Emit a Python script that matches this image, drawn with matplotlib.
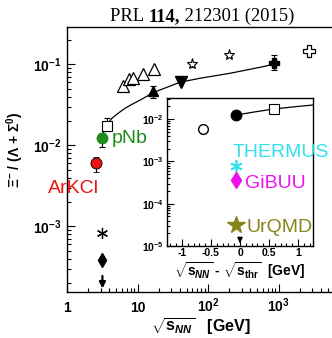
import matplotlib
matplotlib.use('Agg')
import matplotlib.pyplot as plt
from matplotlib.ticker import FixedLocator, LogLocator, NullFormatter, MultipleLocator

plt.rcParams['font.family'] = ['Liberation Sans', 'DejaVu Sans']
plt.rcParams['mathtext.fontset'] = 'custom'
plt.rcParams['mathtext.rm'] = 'Liberation Sans:bold'
plt.rcParams['mathtext.bf'] = 'Liberation Sans:bold'
plt.rcParams['mathtext.it'] = 'Liberation Sans:bold:italic'

# ---- main panel data: sqrt(s_NN) [GeV] vs Xi-/(Lambda+Sigma0) ----
tri_open_x = [6.2, 7.6, 8.6, 12.0, 17.1]
tri_open_y = [0.0535, 0.0653, 0.0671, 0.0753, 0.0868]

tri_up_x, tri_up_y, tri_up_lo, tri_up_hi = [16.6], [0.0464], [0.038], [0.0535]
tri_dn_x, tri_dn_y = [41.4], [0.060]
star_x, star_y = [59.3, 197.0], [0.100, 0.129]
star_lo, star_hi = [0.092, 0.124], [0.104, 0.133]
plus_x, plus_y, plus_lo, plus_hi = [863.0], [0.103], [0.0843], [0.129]
plus_open_x, plus_open_y = [2700.0], [0.145]

# HADES points
arkcl_x, arkcl_y, arkcl_lo, arkcl_hi = [2.61], [0.0060], [0.00464], [0.00711]
pnb_x, pnb_y, pnb_lo, pnb_hi = [3.18], [0.0122], [0.00944], [0.0141]
sq_x, sq_y, sq_lo, sq_hi = [3.7], [0.0172], [0.0149], [0.0216]

# model values at pNb energy
therm_y = 8.2e-4
gibuu_y = 3.8e-4
urqmd_arrow = [2.65e-4, 1.58e-4]   # upper limit arrow (start, end)

# fit curve
curve_x = [3.24, 3.46, 3.82, 4.35, 5.29, 6.65, 8.36, 10.8, 17.1, 40.1, 77, 205, 547, 863]
curve_y = [0.01406, 0.01622, 0.0187, 0.0216, 0.0248, 0.0286, 0.0321, 0.0360,
           0.0451, 0.0600, 0.0672, 0.0774, 0.0918, 0.100]

# ---- inset data: sqrt(s_NN) - sqrt(s_thr) [GeV] ----
in_open_x, in_open_y, in_open_lo, in_open_hi = [-0.64], [0.0058], [0.0047], [0.0068]
in_fill_x, in_fill_y, in_fill_lo, in_fill_hi = [-0.07], [0.0125], [0.0106], [0.0152]
in_sq_x, in_sq_y, in_sq_lo, in_sq_hi = [0.59], [0.0174], [0.0143], [0.0215]
in_curve_x = [-0.07, 0.25, 0.59, 1.0, 1.3]
in_curve_y = [0.0125, 0.0148, 0.0174, 0.0200, 0.0218]
in_therm_y = 8.0e-4
in_gibuu_y = 3.7e-4
in_urqmd_y = 3.2e-5
in_arrow = [1.6e-5, 1.0e-5]

main_xticks = [1, 10, 100, 1000]
main_xlabels = ['1', '10', r'$10^{2}$', r'$10^{3}$']
main_yticks = [1e-3, 1e-2, 1e-1]
main_ylabels = [r'$10^{-3}$', r'$10^{-2}$', r'$10^{-1}$']
in_xticks = [-1, -0.5, 0, 0.5, 1]
in_xlabels = ['-1', '-0.5', '0', '0.5', '1']
in_yticks = [1e-5, 1e-4, 1e-3, 1e-2]
in_ylabels = [r'$10^{-5}$', r'$10^{-4}$', r'$10^{-3}$', r'$10^{-2}$']

green = '#1e8c1e'
red = '#ee1111'
cyan = '#33e0ee'
magenta = '#ee11ee'
olive = '#85851a'

fig = plt.figure(figsize=(3.32, 3.38), dpi=100)

# main axes runs past the right edge of the picture
ax = fig.add_axes([67 / 332, 46 / 338, 282 / 332, 265 / 338])
ax.set_xscale('log')
ax.set_yscale('log')
ax.set_xlim(1, 1e4)
ax.set_ylim(10 ** -3.81, 10 ** -0.54)


def err(y, lo, hi):
    return [[a - b for a, b in zip(y, lo)], [c - a for a, c in zip(y, hi)]]


eb = dict(ecolor='k', elinewidth=0.8, capsize=2.5, capthick=0.8, linestyle='none')

ax.plot(curve_x, curve_y, color='k', lw=0.9)
ax.plot(tri_open_x, tri_open_y, '^', ms=8.5, mfc='white', mec='k', mew=0.9, ls='none')
ax.errorbar(tri_up_x, tri_up_y, yerr=err(tri_up_y, tri_up_lo, tri_up_hi), fmt='^',
            ms=6.5, color='k', **eb)
ax.plot(tri_dn_x, tri_dn_y, 'v', ms=8, color='k', ls='none')
ax.errorbar(star_x, star_y, yerr=err(star_y, star_lo, star_hi), fmt='*', ms=8,
            mfc='white', mec='k', mew=0.8, **eb)
ax.errorbar(plus_x, plus_y, yerr=err(plus_y, plus_lo, plus_hi), fmt='P', ms=7.5,
            color='k', **eb)
ax.plot(plus_open_x, plus_open_y, 'P', ms=8.5, mfc='white', mec='k', mew=0.9, ls='none')

ax.errorbar(sq_x, sq_y, yerr=err(sq_y, sq_lo, sq_hi), fmt='s', ms=7, mfc='white',
            mec='k', mew=0.8, **eb)
ax.errorbar(pnb_x, pnb_y, yerr=err(pnb_y, pnb_lo, pnb_hi), fmt='o', ms=7.5,
            mfc=green, mec=green, **eb)
ax.errorbar(arkcl_x, arkcl_y, yerr=err(arkcl_y, arkcl_lo, arkcl_hi), fmt='o', ms=8,
            mfc=red, mec='k', mew=0.6, **eb)
ax.plot(pnb_x, [therm_y], marker=(6, 2, 0), ms=8, color='k', mew=0.9, ls='none')
ax.plot(pnb_x, [gibuu_y], 'd', ms=7, color='k', ls='none')
ax.annotate('', xy=(pnb_x[0], urqmd_arrow[1]), xytext=(pnb_x[0], urqmd_arrow[0]),
            arrowprops=dict(arrowstyle='-|>', color='k', lw=1.6, mutation_scale=9))

ax.text(4.35, pnb_y[0], 'pNb', color=green, fontsize=14, ha='left', va='center')
ax.text(0.537, 0.00294, 'ArKCl', color=red, fontsize=14, ha='left', va='center',
        clip_on=False)

ax.xaxis.set_major_locator(FixedLocator(main_xticks))
ax.set_xticklabels(main_xlabels)
ax.yaxis.set_major_locator(FixedLocator(main_yticks))
ax.set_yticklabels(main_ylabels)
for a in (ax.xaxis, ax.yaxis):
    a.set_minor_locator(LogLocator(base=10, subs=range(2, 10), numticks=20))
    a.set_minor_formatter(NullFormatter())
ax.tick_params(which='both', direction='in', top=False, right=False, width=0.8,
               labelsize=10)
ax.tick_params(which='major', length=6)
ax.tick_params(which='minor', length=3)
ax.tick_params(axis='x', pad=14.5)
ax.tick_params(axis='y', pad=4)
for t in ax.get_xticklabels():
    t.set_verticalalignment('baseline')
    t.set_fontweight('bold')
for s in ax.spines.values():
    s.set_linewidth(1.0)

# ---- inset ----
ins = fig.add_axes([167 / 332, 92 / 338, 146 / 332, 148 / 338])
ins.set_yscale('log')
ins.set_xlim(-1.26, 1.26)
ins.set_ylim(1e-5, 10 ** -1.5)
ins.plot(in_curve_x, in_curve_y, color='k', lw=0.9)
ins.errorbar(in_open_x, in_open_y, yerr=err(in_open_y, in_open_lo, in_open_hi), fmt='o',
             ms=7, mfc='white', mec='k', mew=1.0, **eb)
ins.errorbar(in_fill_x, in_fill_y, yerr=err(in_fill_y, in_fill_lo, in_fill_hi), fmt='o',
             ms=7.5, color='k', **eb)
ins.errorbar(in_sq_x, in_sq_y, yerr=err(in_sq_y, in_sq_lo, in_sq_hi), fmt='s', ms=7,
             mfc='white', mec='k', mew=0.8, **eb)
ins.plot(in_fill_x, [in_therm_y], marker=(6, 2, 0), ms=9, color=cyan, mew=1.2, ls='none')
ins.plot(in_fill_x, [in_gibuu_y], 'd', ms=8, color=magenta, ls='none')
ins.plot(in_fill_x, [in_urqmd_y], '*', ms=13, color=olive, ls='none')
ins.annotate('', xy=(0, in_arrow[1]), xytext=(0, in_arrow[0]),
             arrowprops=dict(arrowstyle='-|>', color='k', lw=1.2, mutation_scale=7))

ins.text(-0.12, 1.64e-3, 'THERMUS', color=cyan, fontsize=14, ha='left', va='center',
         clip_on=False)
ins.text(0.09, 3.0e-4, 'GiBUU', color=magenta, fontsize=14, ha='left', va='center')
ins.text(0.12, 2.7e-5, 'UrQMD', color=olive, fontsize=14, ha='left', va='center')

ins.xaxis.set_major_locator(FixedLocator(in_xticks))
ins.set_xticklabels(in_xlabels)
ins.xaxis.set_minor_locator(MultipleLocator(0.1))
ins.yaxis.set_major_locator(FixedLocator(in_yticks))
ins.set_yticklabels(in_ylabels)
ins.yaxis.set_minor_locator(LogLocator(base=10, subs=range(2, 10), numticks=20))
ins.yaxis.set_minor_formatter(NullFormatter())
ins.tick_params(which='both', direction='in', top=False, right=False, width=0.8,
                labelsize=7.5, pad=2.5)
ins.tick_params(axis='x', pad=1.5)
ins.tick_params(which='major', length=5)
ins.tick_params(which='minor', length=2.5)
for t in ins.get_xticklabels():
    t.set_fontweight('bold')
for s in ins.spines.values():
    s.set_linewidth(1.0)

# ---- labels ----
fig.text(240 / 332, 1 - 271 / 338,
         r'$\sqrt{\mathrm{s}_{NN}}$ - $\sqrt{\mathrm{s}_{\mathrm{thr}}}$  [GeV]',
         fontsize=10, fontweight='bold', ha='center', va='center')
fig.text(201 / 332, 1 - 327 / 338, r'$\sqrt{\mathrm{s}_{NN}}$   [GeV]',
         fontsize=11.5, fontweight='bold', ha='center', va='center')
fig.text(15 / 332, 1 - 150 / 338, r'$\Xi^{-}$ / ($\Lambda$ + $\Sigma^{0}$)',
         fontsize=10, fontweight='bold', rotation=90, ha='center', va='center')

# title with bold volume number
t1 = fig.text(110 / 332, 1 - 21 / 338, 'PRL ', family='Liberation Serif', fontsize=13.3,
              ha='left', va='baseline')
t2 = ax.annotate('114,', xy=(1, 0), xycoords=t1, family='Liberation Serif',
                 fontsize=13.3, fontweight='bold', ha='left', va='bottom')
t3 = ax.annotate(' 212301 (2015)', xy=(1, 0), xycoords=t2, family='Liberation Serif',
                 fontsize=13.3, ha='left', va='bottom')

fig.savefig('out.png', dpi=100)
